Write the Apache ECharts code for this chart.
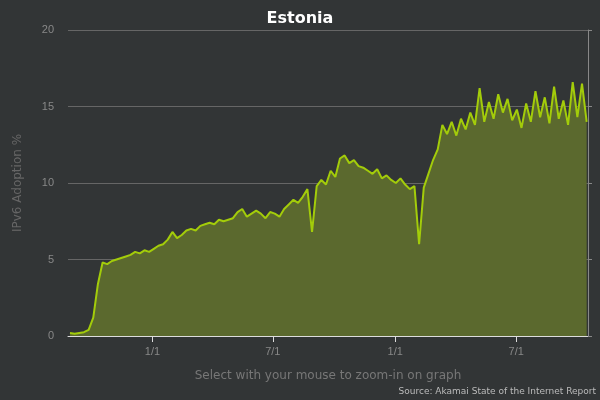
<!DOCTYPE html>
<html>
<head>
<meta charset="utf-8">
<script src="https://cdn.jsdelivr.net/npm/echarts@6/dist/echarts.min.js"></script>
<style>html,body{margin:0;padding:0;background:#323536}#main{width:600px;height:400px}</style>
</head>
<body>
<div id="main"></div>
<script>
var startDate = '2014-08-30';
var tickDates = ['2015-01-01', '2015-07-01', '2016-01-01', '2016-07-01'];
// weekly values of IPv6 adoption %
var adoption = [0.2,0.15,0.2,0.25,0.4,1.2,3.4,4.8,4.7,4.9,5.0,5.1,5.2,5.3,5.5,5.4,5.6,5.5,5.7,5.9,
  6.0,6.3,6.8,6.4,6.6,6.9,7.0,6.9,7.2,7.3,7.4,7.3,7.6,7.5,7.6,7.7,8.1,8.3,7.8,8.0,
  8.2,8.0,7.7,8.1,8.0,7.8,8.3,8.6,8.9,8.7,9.1,9.6,6.8,9.8,10.2,9.9,10.8,10.4,11.6,11.8,
  11.3,11.5,11.1,11.0,10.8,10.6,10.9,10.3,10.5,10.2,10.0,10.3,9.9,9.6,9.8,6.0,9.7,10.6,11.5,12.2,
  13.8,13.2,14.0,13.1,14.2,13.5,14.6,13.8,16.2,14.0,15.3,14.2,15.8,14.6,15.5,14.1,14.8,13.6,15.2,14.0,
  16.0,14.3,15.6,13.9,16.3,14.2,15.4,13.8,16.6,14.3,16.5,14.0];

var DAY = 86400000;
var t0 = new Date(startDate + 'T00:00:00Z').getTime();
var seriesData = adoption.map(function(v, i){ return [t0 + i * 7 * DAY, v]; });
var tickTimes = tickDates.map(function(d){ return new Date(d + 'T00:00:00Z').getTime(); });

var chart = echarts.init(document.getElementById('main'));
var option = {
  backgroundColor: '#323536',
  title: {
    text: 'Estonia', left: 'center', top: 6,
    textStyle: {color: '#fff', fontSize: 16, fontWeight: 'bold', fontFamily: 'DejaVu Sans'}
  },
  grid: {left: 68, right: 12, top: 30, bottom: 64},
  xAxis: {
    type: 'value',
    min: t0 - 3 * DAY,
    max: seriesData[seriesData.length - 1][0] + 2 * DAY,
    name: 'Select with your mouse to zoom-in on graph',
    nameLocation: 'middle', nameGap: 34,
    nameTextStyle: {color: '#777', fontSize: 12, fontFamily: 'DejaVu Sans'},
    axisLine: {lineStyle: {color: '#ddd'}},
    axisTick: {show: true, customValues: tickTimes, length: 6, lineStyle: {color: '#ddd'}},
    axisLabel: {
      customValues: tickTimes, color: '#888', fontSize: 11, margin: 10,
      formatter: function(v){ var d = new Date(v); return (d.getUTCMonth() + 1) + '/' + d.getUTCDate(); }
    },
    splitLine: {show: false}
  },
  yAxis: [{
    type: 'value', min: 0, max: 20, interval: 5,
    name: 'IPv6 Adoption %', nameLocation: 'middle', nameGap: 44,
    nameTextStyle: {color: '#666', fontSize: 12, fontFamily: 'DejaVu Sans'},
    axisLine: {show: false}, axisTick: {show: false},
    axisLabel: {color: '#888', fontSize: 11, margin: 14},
    splitLine: {lineStyle: {color: '#666', width: 1}}
  }, {
    type: 'value', min: 0, max: 20, interval: 5, position: 'right',
    axisLine: {show: true, lineStyle: {color: '#888'}},
    axisTick: {show: true, length: 4, lineStyle: {color: '#888'}},
    axisLabel: {show: false}, splitLine: {show: false}
  }],
  series: [{
    type: 'line', data: seriesData, symbol: 'none',
    lineStyle: {color: '#a3cc0a', width: 2},
    areaStyle: {color: '#5b692e', opacity: 1}
  }],
  graphic: [{
    type: 'text', right: 4, bottom: 4,
    style: {text: 'Source: Akamai State of the Internet Report', fill: '#bbb', fontSize: 9, fontFamily: 'DejaVu Sans'}
  }]
};
chart.setOption(option);
</script>
</body>
</html>
